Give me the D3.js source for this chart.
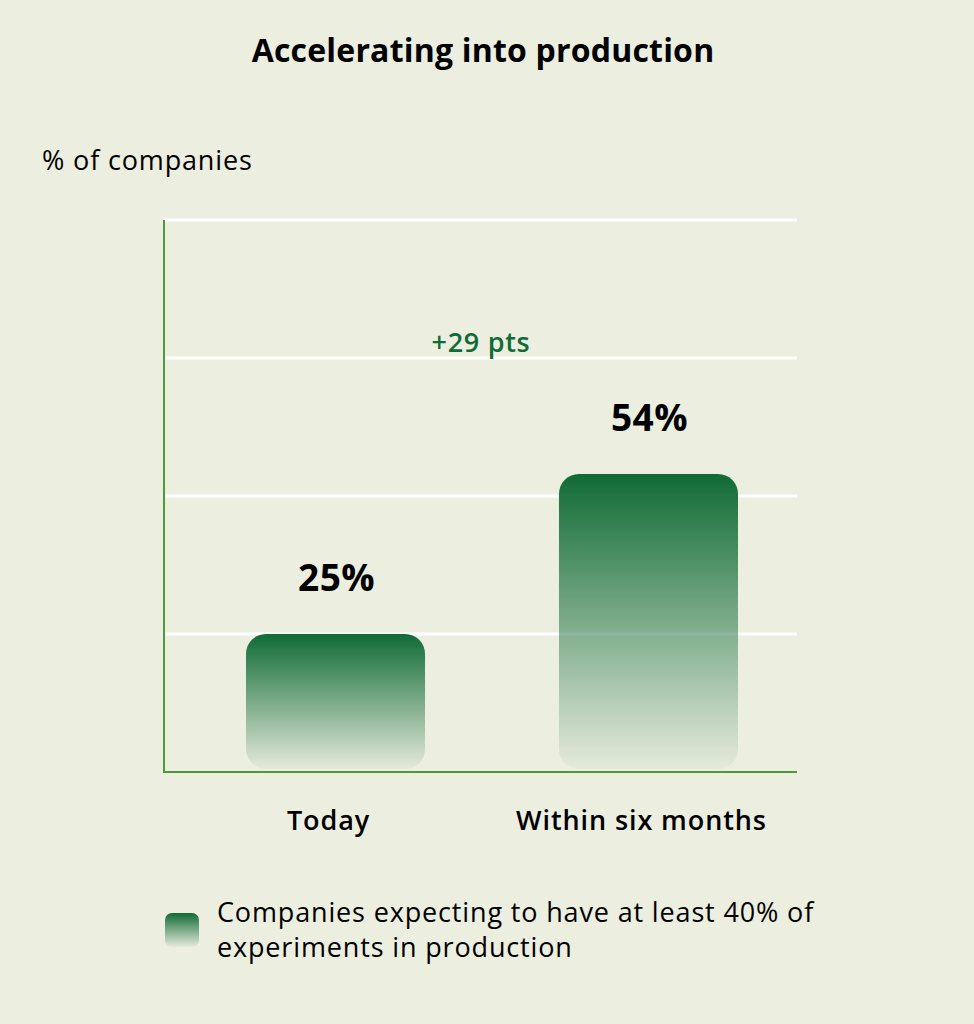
<!DOCTYPE html>
<html>
<head>
<meta charset="utf-8">
<script src="https://cdn.jsdelivr.net/npm/d3@7"></script>
<style>
  html, body { margin: 0; padding: 0; background: #eceee0; }
  svg { display: block; font-family: "Open Sans", "Noto Sans", sans-serif; }
</style>
</head>
<body>
<svg id="chart" width="974" height="1024"></svg>
<script>
const categories = ["Today", "Within six months"];
const values = [25, 54];
const valueLabels = ["25%", "54%"];
const yTicks = [0, 25, 50, 75, 100];
const title = "Accelerating into production";
const yAxisLabel = "% of companies";
const deltaLabel = "+29 pts";
const legendLines = ["Companies expecting to have at least 40% of", "experiments in production"];

const svg = d3.select("#chart");
const W = 974, H = 1024;
svg.append("rect").attr("width", W).attr("height", H).attr("fill", "#eceee0");

const plotLeft = 164, plotRight = 797, plotTop = 220, plotBottom = 772;

const y = d3.scaleLinear().domain([0, 100]).range([plotBottom, plotTop]);
const x = d3.scaleBand().domain(categories).range([246, 738]).paddingInner(0.428).paddingOuter(0);

// gradient
const defs = svg.append("defs");
const grad = defs.append("linearGradient").attr("id", "barGrad")
  .attr("x1", 0).attr("y1", 0).attr("x2", 0).attr("y2", 1);
grad.append("stop").attr("offset", "0%").attr("stop-color", "#106b36").attr("stop-opacity", 1);
grad.append("stop").attr("offset", "100%").attr("stop-color", "#106b36").attr("stop-opacity", 0.03);

// title
svg.append("text").attr("x", 483).attr("y", 62).attr("text-anchor", "middle")
  .attr("font-size", 32).attr("font-weight", 700).attr("letter-spacing", 0.2)
  .attr("fill", "#000").text(title);

// y label
svg.append("text").attr("x", 42).attr("y", 169.5)
  .attr("font-size", 27).attr("font-weight", 400).attr("letter-spacing", 0.85)
  .attr("fill", "#000").text(yAxisLabel);

// gridlines
svg.append("g").selectAll("line").data(yTicks.filter(d => d > 0)).join("line")
  .attr("x1", plotLeft).attr("x2", plotRight)
  .attr("y1", d => y(d)).attr("y2", d => y(d))
  .attr("stroke", "#ffffff").attr("stroke-width", 3);

// bars
svg.append("g").selectAll("rect").data(categories).join("rect")
  .attr("x", d => x(d))
  .attr("y", (d, i) => y(values[i]))
  .attr("width", x.bandwidth())
  .attr("height", (d, i) => y(0) - y(values[i]) - 3)
  .attr("rx", 20).attr("ry", 20)
  .attr("fill", "url(#barGrad)");

// axes
svg.append("line").attr("x1", plotLeft).attr("x2", plotLeft).attr("y1", plotTop).attr("y2", plotBottom + 1)
  .attr("stroke", "#4c9a3c").attr("stroke-width", 2);
svg.append("line").attr("x1", plotLeft - 1).attr("x2", plotRight).attr("y1", plotBottom).attr("y2", plotBottom)
  .attr("stroke", "#4c9a3c").attr("stroke-width", 2);

// value labels
svg.append("g").selectAll("text").data(categories).join("text")
  .attr("x", d => x(d) + x.bandwidth() / 2 + 1)
  .attr("y", (d, i) => y(values[i]) - 43)
  .attr("text-anchor", "middle")
  .attr("font-size", 37).attr("font-weight", 700).attr("letter-spacing", 0.4)
  .attr("fill", "#000")
  .text((d, i) => valueLabels[i]);

// delta label
svg.append("text").attr("x", 481).attr("y", 352).attr("text-anchor", "middle")
  .attr("font-size", 27).attr("font-weight", 600).attr("letter-spacing", 0.7)
  .attr("fill", "#106b36").text(deltaLabel);

// category labels
svg.append("g").selectAll("text").data(categories).join("text")
  .attr("x", d => x(d) + x.bandwidth() / 2 - 7)
  .attr("y", 830)
  .attr("text-anchor", "middle")
  .attr("font-size", 27).attr("font-weight", 600).attr("letter-spacing", 0.9)
  .attr("fill", "#000")
  .text(d => d);

// legend
svg.append("rect").attr("x", 165).attr("y", 913).attr("width", 34).attr("height", 34)
  .attr("rx", 7).attr("fill", "url(#barGrad)");
svg.append("g").selectAll("text").data(legendLines).join("text")
  .attr("x", 217).attr("y", (d, i) => 922 + i * 34.5)
  .attr("font-size", 27).attr("font-weight", 400).attr("letter-spacing", 0.85)
  .attr("fill", "#000")
  .text(d => d);
</script>
</body>
</html>
